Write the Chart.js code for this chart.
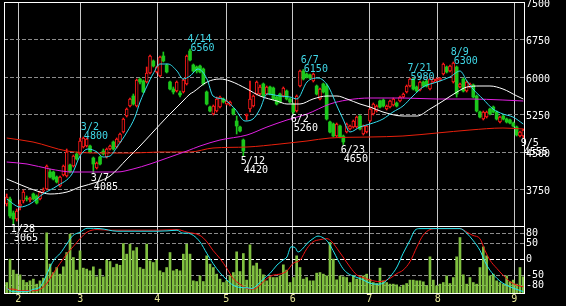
<!DOCTYPE html>
<html lang="ja">
<head>
<meta charset="utf-8">
<title>日足チャート</title>
<script src="https://cdn.jsdelivr.net/npm/chart.js@4.4.1/dist/chart.umd.min.js"></script>
<style>
  html, body { margin: 0; padding: 0; background: #000; overflow: hidden; }
  #wrap { position: relative; width: 566px; height: 306px; }
  #wrap canvas { position: absolute; left: 0; }
  #priceChart { top: 0; }
  #oscChart { top: 226px; }
</style>
</head>
<body>
<div id="wrap">
  <canvas id="priceChart" width="566" height="306"></canvas>
  <canvas id="oscChart" width="566" height="80"></canvas>
</div>
<script>
// 日足 (1/26 - 9/5)
const opens = [
  3460,3560,3280,3160,3420,3520,3580,3540,3660,3620,
  3560,3720,3760,4100,4100,4000,3820,4040,4020,4240,
  4220,4460,4460,4600,4620,4620,4380,4180,4400,4520,
  4400,4560,4700,4600,4700,4900,5220,5420,5620,5420,
  5960,5920,5900,6080,6320,6100,6020,6420,6240,5900,
  5760,5720,5680,5700,5860,6520,6240,6200,6220,6160,
  5700,5400,5260,5320,5400,5560,5460,5440,5360,5120,
  5000,4740,5220,5360,5420,5660,5660,5860,5660,5800,
  5780,5600,5660,5620,5720,5560,5460,5320,5820,6120,
  6060,6040,5920,5820,5560,5860,5820,5100,5060,4820,
  5020,4820,4900,4960,5000,5000,5220,4860,4900,5120,
  5260,5320,5520,5540,5360,5400,5440,5480,5520,5600,
  5700,5820,5960,5800,5740,5900,5920,5760,5900,5920,
  5940,6060,6200,6120,5900,6200,5800,5960,5720,5800,
  5840,5620,5300,5160,5200,5360,5400,5300,5100,5220,
  5160,5140,5080,5000,4820,4820
];
const highs = [
  3660,3600,3320,3360,3540,3740,3620,3600,3680,3640,
  3720,3780,4240,4160,4120,4020,4020,4240,4560,4260,
  4440,4500,4780,4800,4780,4640,4400,4300,4420,4560,
  4580,4640,4720,4780,4880,5180,5380,5580,5660,5960,
  5980,5940,6200,6440,6340,6220,6420,6500,6260,5920,
  5800,5920,5720,5960,6440,6560,6260,6220,6240,6180,
  5720,5420,5440,5600,5620,5580,5540,5520,5380,5220,
  5020,4760,5260,5920,5640,5920,5840,5880,5820,5820,
  5800,5620,5680,5800,5740,5580,5480,5640,6140,6150,
  6080,6060,6080,5840,5780,5880,5860,5120,5080,5080,
  5040,4840,5080,5040,5140,5220,5240,5040,5040,5380,
  5480,5440,5540,5560,5440,5540,5580,5500,5620,5680,
  5840,5980,5970,5820,5920,5920,5940,5970,5980,5980,
  5990,6280,6220,6240,6300,6220,5880,5980,5920,5880,
  5860,5640,5320,5320,5320,5380,5420,5320,5220,5240,
  5180,5160,5100,5020,4920,4960
];
const lows = [
  3420,3180,3065,3120,3340,3480,3520,3500,3540,3460,
  3540,3680,3740,3980,3940,3880,3800,4020,4000,4080,
  4200,4340,4440,4580,4600,4480,4085,4160,4240,4440,
  4380,4540,4540,4580,4680,4880,5200,5400,5440,5400,
  5860,5680,5880,6060,6200,6080,6000,6300,6080,5740,
  5660,5700,5600,5680,5840,6320,6100,6080,6080,5840,
  5440,5300,5240,5300,5380,5480,5440,5420,5240,4860,
  4900,4420,5140,5300,5400,5640,5640,5600,5640,5640,
  5540,5440,5480,5600,5540,5480,5260,5300,5800,5940,
  5980,5960,5900,5640,5540,5680,5140,4880,4800,4800,
  4780,4650,4880,4940,4980,4980,4940,4840,4880,5100,
  5240,5300,5380,5400,5340,5380,5420,5400,5500,5580,
  5680,5800,5740,5700,5720,5800,5800,5740,5880,5900,
  5920,6040,6080,6100,5880,5600,5780,5700,5700,5780,
  5580,5300,5180,5140,5180,5240,5280,5140,5080,5140,
  5080,5060,5000,4820,4800,4780
];
const closes = [
  3600,3220,3160,3320,3460,3700,3560,3580,3560,3480,
  3700,3740,4220,4000,3960,3900,4000,4220,4500,4100,
  4420,4360,4720,4780,4760,4500,4260,4280,4260,4460,
  4560,4620,4560,4760,4860,5160,5360,5560,5460,5940,
  5900,5700,6080,6420,6220,6200,6400,6320,6100,5760,
  5700,5900,5640,5940,6420,6340,6120,6120,6100,5860,
  5460,5320,5420,5560,5600,5500,5520,5500,5260,5020,
  4920,4520,5260,5560,5620,5900,5800,5620,5800,5660,
  5560,5460,5500,5780,5560,5500,5300,5620,6120,5960,
  6000,5980,6060,5660,5760,5700,5160,4900,4820,5060,
  4800,4700,5060,5020,5120,5200,4960,5020,5020,5360,
  5460,5420,5400,5420,5420,5520,5560,5420,5600,5660,
  5820,5960,5760,5720,5900,5820,5820,5960,5960,5960,
  5980,6260,6100,6220,6280,5660,5860,5720,5900,5860,
  5600,5320,5200,5300,5300,5260,5300,5160,5200,5160,
  5100,5080,5020,4840,4900,4940
];
// 出来高 (千株)
const volumes = [
  216,684,464,384,370,264,216,250,284,184,
  250,304,1210,584,416,516,384,530,816,1184,
  716,464,850,504,484,450,530,330,484,330,
  664,636,516,584,560,996,784,984,850,916,
  516,484,984,650,616,664,450,416,516,816,
  450,480,450,784,984,784,250,236,350,236,
  750,584,516,384,284,216,250,350,416,830,
  436,796,264,970,550,604,484,370,250,330,
  316,316,350,570,464,216,316,750,516,284,
  316,250,250,404,416,384,350,1016,684,270,
  350,330,316,216,350,284,316,350,384,284,
  216,196,504,250,216,184,184,170,130,164,
  196,264,264,250,250,230,150,730,264,150,
  184,216,350,196,316,730,1116,370,184,316,
  216,184,516,930,750,350,384,250,216,184,
  350,236,264,184,516,330
];

// 移動平均線 (足の位置, 値)
const maShortIdx = [0,4,7,10.9,15.1,19.6,22,24.4,27.1,28.9,31,33.1,36.1,38.5,40,42.1,43.9,46,48.4,51.1,52.9,55,57.4,60.1,61.9,64.9,68.5,71.5,73.9,76,78.1,82,85,87.1,90.1,93.4,96.4,99.1,100.9,103,106,109,112.9,115.9,118.9,121.9,124.9,129.1,133,136,138.1,139.9,142.9,145.9,148.9,151.9,155];
const maShortVal = [3560,3400,3460,3660,3820,4060,4420,4560,4500,4400,4420,4600,4900,5200,5500,5820,6060,6260,6260,6120,5960,6020,6160,5960,5620,5560,5360,5120,5160,5360,5660,5620,5600,5560,5900,5980,5820,5420,5160,4900,5000,5060,5160,5300,5420,5620,5800,5900,6000,6120,5920,5760,5560,5360,5260,5200,5060];
const maMidIdx = [0,9.1,13,18.1,22,27.1,31,36.1,40,43.9,48.1,50.5,52.9,55,56,60.1,64,67,72.1,76,81.1,84.1,88,91.9,96.1,99.1,102.1,106,109,112.9,118.9,123.1,127,130.9,135.1,138.1,142,145,148.9,153.1,155];
const maMidVal = [3960,3720,3660,3700,3800,3900,4020,4360,4620,4900,5200,5360,5520,5660,5700,5900,5960,5920,5760,5620,5520,5460,5460,5560,5620,5620,5560,5460,5400,5300,5220,5220,5360,5520,5700,5800,5820,5820,5760,5620,5560];
const maLongIdx = [0,6.1,13,19.9,25.9,33.1,37.9,43,49,54.1,58,64,72.1,78.1,84.1,90.1,97,102.1,109,118.9,129.1,139,148.9,155];
const maLongVal = [4300,4260,4160,4100,4100,4100,4160,4260,4400,4520,4620,4740,4840,5000,5140,5260,5460,5540,5580,5580,5560,5560,5540,5520];
const maXLongIdx = [0,7.9,18.1,28,37.9,46,55,61.9,72.1,82,90.1,97,109,118.9,129.1,139,148.9,155];
const maXLongVal = [4780,4700,4520,4480,4480,4500,4500,4580,4600,4660,4720,4780,4800,4820,4880,4940,4980,4960];

// ストキャスティクス
const stochKIdx = [0,1.9,6.1,7.9,10,11.5,13,14.5,16,18.1,19.9,22,24.1,28,33.1,45.1,48.1,51.1,52.9,54.1,56,58,60.1,61.9,64,66.1,67.9,70,72.1,73.6,75.1,76.9,79,81.1,82.9,84.1,85.3,86.5,87.4,88.6,90.1,91.9,93.4,94.9,96.4,97.9,99.4,100.9,102.4,104.5,106.6,109,111.1,112.9,115,117.1,118.9,121,122.5,124,136,138.1,139.9,142,143.5,145,147.1,148.9,151,153.1,155];
const stochKVal = [-89,-99,-99,-92,-84,-58,-23,3,18,49,74,84,96,95,87,87,88,90,81,81,74,54,18,-12,-41,-63,-79,-86,-87,-89,-79,-61,-43,-17,-2,8,39,37,23,31,49,64,72,67,54,28,-2,-28,-43,-53,-61,-73,-76,-73,-53,-23,18,59,90,95,95,80,59,28,-7,-33,-58,-73,-84,-92,-99];
const stochDIdx = [0,1.9,4,7.9,10,12.1,13.9,16,18.1,19.9,22,24.1,27.1,31,45.1,51.1,54.1,58,60.1,61.9,64,66.1,67.9,70,72.1,73.9,76,78.1,79.9,82,84.1,85.9,88,90.1,91.9,94,96.1,97.6,99.1,100.9,103,105.1,106.9,109,112,115,117.1,118.9,121,123.1,124.9,127,129.1,136,138.1,139.9,142,143.5,145,147.1,148.9,151,153.1,155];
const stochDVal = [-91,-91,-96,-96,-92,-73,-43,-12,18,39,64,84,92,90,90,92,84,74,54,28,3,-28,-58,-76,-89,-91,-79,-58,-48,-45,-35,-12,-2,34,54,61,64,54,34,8,-23,-48,-55,-63,-68,-58,-43,-33,-7,39,74,92,95,95,84,74,64,28,-2,-28,-48,-68,-79,-84];

const priceTicks = [3750, 4500, 5250, 6000, 6750, 7500];
const oscTicks = [-80, -50, 0, 50, 80];
const monthTicks = [3.5, 22.1, 45.2, 65.9, 85.8, 108.8, 129.3, 152.3];
const monthLabels = ['2', '3', '4', '5', '6', '7', '8', '9'];

// 高値・安値の注記
const peakMarks = [
  {i: 23, date: '3/2', price: '4800'},
  {i: 55, date: '4/14', price: '6560'},
  {i: 89, date: '6/7', price: '6150'},
  {i: 121, date: '7/21', price: '5980'},
  {i: 134, date: '8/9', price: '6300'}
];
const troughMarks = [
  {i: 2, date: '1/28', price: '3065'},
  {i: 26, date: '3/7', price: '4085'},
  {i: 71, date: '5/12', price: '4420'},
  {i: 86, date: '6/2', price: '5260'},
  {i: 101, date: '6/23', price: '4650'},
  {i: 155, date: '9/5', price: '4555'}
];

const colors = {
  up: '#ff1a1a',
  down: '#1cc81c',
  maShort: '#33ddee',
  maMid: '#ffffff',
  maLong: '#e020e0',
  maXLong: '#e8200c',
  volume: '#80c040',
  stochK: '#22e6f0',
  stochD: '#f01414',
  peakText: '#40d8e8',
  grid: '#8c8c8c',
  month: '#c8c8c8',
  monthText: '#e6e696'
};

Chart.defaults.font.family = "'DejaVu Sans Mono', monospace";
Chart.defaults.font.size = 10;
Chart.defaults.color = '#ffffff';

const X_MIN = -0.81;
const X_MAX = 155.21;
const idx = closes.map((_, i) => i);
const isUp = i => closes[i] >= opens[i];
const pts = (xs, ys) => xs.map((x, k) => ({x: x, y: ys[k]}));

function lineSet(label, xs, ys, color, axis) {
  return {
    type: 'line',
    label: label,
    data: pts(xs, ys),
    yAxisID: axis || 'y',
    borderColor: color,
    borderWidth: 1,
    pointRadius: 0,
    cubicInterpolationMode: 'monotone',
    order: 0
  };
}

// 枠線
const framePlugin = {
  id: 'frame',
  afterDraw(chart) {
    const {ctx, chartArea: a} = chart;
    ctx.save();
    ctx.strokeStyle = '#ffffff';
    ctx.lineWidth = 1;
    ctx.strokeRect(a.left + 0.5, a.top + 0.5, a.right - a.left, a.bottom - a.top);
    ctx.restore();
  }
};

// 高値・安値ラベル
const markPlugin = {
  id: 'marks',
  afterDraw(chart) {
    const {ctx, scales: {x, y}} = chart;
    ctx.save();
    ctx.font = "10px 'DejaVu Sans Mono'";
    ctx.textAlign = 'left';
    ctx.textBaseline = 'alphabetic';
    ctx.fillStyle = colors.peakText;
    peakMarks.forEach(m => {
      const px = x.getPixelForValue(m.i);
      const py = y.getPixelForValue(highs[m.i]);
      ctx.fillText(m.date, px - 2.5, py - 7);
      ctx.fillText(m.price, px + 0.5, py + 2);
    });
    ctx.fillStyle = '#ffffff';
    troughMarks.forEach(m => {
      const px = x.getPixelForValue(m.i);
      const py = y.getPixelForValue(lows[m.i]);
      ctx.fillText(m.date, px - 2.5, py + 8);
      ctx.fillText(m.price, px + 0.5, py + 17);
    });
    ctx.restore();
  }
};

const noPad = s => { s.paddingTop = 0; s.paddingBottom = 0; s.paddingLeft = 0; s.paddingRight = 0; };
const plain = v => String(v);

// 1. ローソク足 + 移動平均
new Chart(document.getElementById('priceChart'), {
  type: 'bar',
  data: {
    datasets: [
      lineSet('短期', maShortIdx, maShortVal, colors.maShort),
      lineSet('中期', maMidIdx, maMidVal, colors.maMid),
      lineSet('長期', maLongIdx, maLongVal, colors.maLong),
      lineSet('超長期', maXLongIdx, maXLongVal, colors.maXLong),
      {
        label: '実体',
        data: idx.map(i => ({x: i, y: [opens[i], closes[i]]})),
        backgroundColor: c => isUp(c.dataIndex) ? '#000000' : colors.down,
        borderColor: c => isUp(c.dataIndex) ? colors.up : colors.down,
        borderWidth: c => isUp(c.dataIndex) ? 1 : 0,
        borderSkipped: false,
        barThickness: 3,
        minBarLength: 1,
        grouped: false,
        order: 1
      },
      {
        label: 'ヒゲ',
        data: idx.map(i => ({x: i, y: [lows[i], highs[i]]})),
        backgroundColor: c => isUp(c.dataIndex) ? colors.up : colors.down,
        borderWidth: 0,
        barThickness: 1,
        grouped: false,
        order: 2
      }
    ]
  },
  options: {
    responsive: false,
    devicePixelRatio: 1,
    animation: false,
    events: [],
    layout: {padding: {left: 4, top: 2, right: 0, bottom: 80}},
    plugins: {legend: {display: false}, tooltip: {enabled: false}},
    scales: {
      x: {
        type: 'linear',
        min: X_MIN,
        max: X_MAX,
        offset: false,
        afterBuildTicks: s => { s.ticks = monthTicks.map(v => ({value: v})); },
        afterFit: s => { s.height = 0; noPad(s); },
        ticks: {display: false},
        grid: {color: colors.month, drawTicks: false, offset: false},
        border: {display: false}
      },
      y: {
        position: 'right',
        min: 3020,
        max: 7500,
        afterBuildTicks: s => { s.ticks = priceTicks.map(v => ({value: v})); },
        afterFit: s => { s.width = 42; noPad(s); },
        ticks: {color: '#ffffff', padding: 2, labelOffset: 2, callback: plain},
        grid: {
          color: c => (c.tick && c.tick.value === 7500) ? 'rgba(0,0,0,0)' : colors.grid,
          drawTicks: false
        },
        border: {display: false, dash: [4, 2]}
      }
    }
  },
  plugins: [framePlugin, markPlugin]
});

// 2. 出来高 + ストキャスティクス
new Chart(document.getElementById('oscChart'), {
  type: 'bar',
  data: {
    datasets: [
      lineSet('%K', stochKIdx, stochKVal, colors.stochK),
      lineSet('%D', stochDIdx, stochDVal, colors.stochD),
      {
        label: '出来高',
        yAxisID: 'yv',
        data: idx.map(i => ({x: i, y: volumes[i]})),
        backgroundColor: colors.volume,
        borderWidth: 0,
        barPercentage: 1,
        categoryPercentage: 0.8,
        grouped: false,
        order: 1
      }
    ]
  },
  options: {
    responsive: false,
    devicePixelRatio: 1,
    animation: false,
    events: [],
    layout: {padding: {left: 4, top: 0, right: 0, bottom: 0}},
    plugins: {legend: {display: false}, tooltip: {enabled: false}},
    scales: {
      x: {
        type: 'linear',
        min: X_MIN,
        max: X_MAX,
        offset: false,
        afterBuildTicks: s => { s.ticks = monthTicks.map(v => ({value: v})); },
        afterFit: s => { s.height = 13; noPad(s); },
        ticks: {
          color: colors.monthText,
          padding: 0,
          autoSkip: false,
          maxRotation: 0,
          callback: (v, i) => monthLabels[i]
        },
        grid: {color: colors.month, drawTicks: false, offset: false},
        border: {display: false}
      },
      y: {
        position: 'right',
        min: -103,
        max: 103,
        afterBuildTicks: s => { s.ticks = oscTicks.map(v => ({value: v})); },
        afterFit: s => { s.width = 42; noPad(s); },
        ticks: {color: '#ffffff', padding: 2, callback: plain},
        grid: {
          color: c => (c.tick && c.tick.value === 0) ? '#ffffff' : colors.grid,
          drawTicks: false
        },
        border: {display: false, dash: [4, 2]}
      },
      yv: {
        display: false,
        min: 0,
        max: 1340
      }
    }
  },
  plugins: [framePlugin]
});
</script>
</body>
</html>
